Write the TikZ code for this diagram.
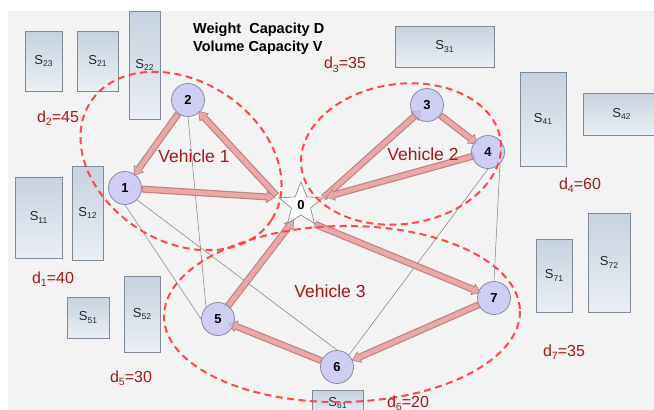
\documentclass[tikz,border=0pt]{standalone}
\usepackage{fontspec}
\setmainfont{Liberation Sans}
\usetikzlibrary{shapes.geometric,arrows.meta,calc}
\pgfdeclarelayer{bg}
\pgfdeclarelayer{arr}
\pgfsetlayers{bg,arr,main}
\definecolor{boxtop}{HTML}{C6D2DF}
\definecolor{boxbot}{HTML}{EAEFF4}
\definecolor{boxline}{HTML}{808A96}
\definecolor{nodefill}{HTML}{C2C2F2}
\definecolor{nodeline}{HTML}{8A8AA6}
\definecolor{arrfill}{HTML}{EBA8A8}
\definecolor{arredge}{HTML}{C08282}
\definecolor{dred}{HTML}{A31818}
\definecolor{ered}{HTML}{FF4848}
\definecolor{bgc}{HTML}{F3F3F3}
\definecolor{thin}{HTML}{7F7F7F}
\newcommand\slab[1]{{\fontsize{13}{15}\selectfont S\raisebox{-2.5pt}{\fontsize{8.5}{9}\selectfont #1}}}
\newcommand\dlab[2]{{\fontsize{16}{18}\selectfont d\raisebox{-3.5pt}{\fontsize{10.5}{12}\selectfont #1}=#2}}
\newcommand\routearrow[4]{%
  \draw[arrE, shorten <=#1pt, shorten >=#2pt] (#3) -- (#4);
  \pgfmathsetmacro\rtA{#1+0.9}\pgfmathsetmacro\rtB{#2+1.3}%
  \draw[arrF, shorten <=\rtA pt, shorten >=\rtB pt] (#3) -- (#4);}
\begin{document}
\begin{tikzpicture}[x=1pt,y=-1pt,
  sbox/.style={draw=boxline, line width=0.8pt, top color=boxtop, bottom color=boxbot, inner sep=0pt, text=black!85},
  vnode/.style={circle, draw=nodeline, line width=0.8pt, fill=nodefill, fill opacity=0.75, text opacity=1, minimum size=33pt, inner sep=0pt, font=\fontsize{13}{13}\selectfont\bfseries},
  depot/.style={star, star points=5, star point ratio=2.3, draw=gray, line width=0.6pt, fill=white, fill opacity=0.6, text opacity=1, minimum size=46pt, inner sep=0pt, font=\fontsize{13}{13}\selectfont\bfseries},
  arrE/.style={line width=7pt, draw=arredge, -{Triangle[length=9pt,width=12.5pt,line width=0pt]}},
  arrF/.style={line width=4.6pt, draw=arrfill, -{Triangle[length=6.8pt,width=9pt,line width=0pt]}},
  thinline/.style={draw=thin, line width=0.5pt},
  vdash/.style={draw=ered, line width=2pt, dash pattern=on 7pt off 4.5pt},
  veh/.style={text=dred, font=\fontsize{17.5}{20}\selectfont, inner sep=0pt},
  dl/.style={text=dred, inner sep=0pt},
  ttl/.style={font=\fontsize{14.5}{16}\selectfont\bfseries, inner sep=0pt, anchor=base west}
]
\useasboundingbox (0,0) rectangle (654,410);
\begin{pgfonlayer}{bg}
\fill[bgc] (8,11) rectangle (654,410);
\end{pgfonlayer}
% storage boxes
\begin{pgfonlayer}{bg}
\node[sbox, minimum width=37pt, minimum height=60pt] (s23) at (43.5,61) {\slab{23}};
\node[sbox, minimum width=41pt, minimum height=60pt] (s21) at (97.5,61) {\slab{21}};
\node[sbox, minimum width=31pt, minimum height=108pt] (s22) at (144.5,65) {\slab{22}};
\node[sbox, minimum width=99pt, minimum height=41pt] (s31) at (444.5,46.5) {\slab{31}};
\node[sbox, minimum width=46pt, minimum height=94pt] (s41) at (543,119) {\slab{41}};
\node[sbox, minimum width=77pt, minimum height=42pt] (s42) at (621.5,114) {\slab{42}};
\node[sbox, minimum width=47pt, minimum height=81pt] (s11) at (38.5,217.5) {\slab{11}};
\node[sbox, minimum width=31pt, minimum height=94pt] (s12) at (87.5,213) {\slab{12}};
\node[sbox, minimum width=42pt, minimum height=41pt] (s51) at (88,317.5) {\slab{51}};
\node[sbox, minimum width=36pt, minimum height=76pt] (s52) at (142,314) {\slab{52}};
\node[sbox, minimum width=51pt, minimum height=26pt] (s61) at (337.5,403) {\slab{61}};
\node[sbox, minimum width=36pt, minimum height=73pt] (s71) at (554,275.5) {\slab{71}};
\node[sbox, minimum width=42pt, minimum height=99pt] (s72) at (609,262.5) {\slab{72}};
\end{pgfonlayer}
% customers and depot
\node[depot] (n0) at (301,205) {0};
\node[vnode] (n1) at (125,188) {1};
\node[vnode] (n2) at (188,100) {2};
\node[vnode] (n3) at (427,105) {3};
\node[vnode] (n4) at (488,152) {4};
\node[vnode] (n5) at (218,319) {5};
\node[vnode] (n6) at (337,367) {6};
\node[vnode] (n7) at (494,298) {7};
\coordinate (d5) at ($(n0.outer point 3)!0.5!(n0.inner point 3)$);
% thin lines and routes
\begin{pgfonlayer}{arr}
\draw[thinline] (n1.south) -- (n5.west);
\draw[thinline] (n1.south east) -- (n6.north);
\draw[thinline] (n2.south) -- (n5.north west);
\draw[thinline] (n4.south) -- (n6.north east);
\draw[thinline] (n4.south east) -- (n7.north);
\routearrow{3}{-2}{n0.outer point 2}{n2}
\routearrow{0}{-2}{n2}{n1}
\routearrow{0}{3}{n1}{n0.outer point 2}
\routearrow{0}{-9}{n0.outer point 5}{n3}
\routearrow{0}{-4}{n3}{n4}
\routearrow{-3}{2}{n4}{n0.outer point 5}
\routearrow{0}{-3}{n0.outer point 4}{n7}
\routearrow{0}{-1}{n7}{n6}
\routearrow{0}{-6}{n6}{n5}
\routearrow{-2}{0}{n5}{d5}
\end{pgfonlayer}
% vehicle regions
\draw[vdash, shift={(181,161)}, rotate=-33] (0,0) ellipse [x radius=108, y radius=80];
\draw[vdash, shift={(401,154)}, rotate=8] (0,0) ellipse [x radius=100.5, y radius=70];
\draw[vdash, shift={(342,314)}, rotate=1] (0,0) ellipse [x radius=178, y radius=88];
% texts
\node[veh] (v1) at (194,156) {Vehicle 1};
\node[veh] (v2) at (423,154) {Vehicle 2};
\node[veh] (v3) at (330,291) {Vehicle 3};
\node[ttl] (t1) at (193,33) {Weight\ \ Capacity D};
\node[ttl] (t2) at (193,51) {Volume Capacity V};
\node[dl] (l2) at (58,118) {\dlab{2}{45}};
\node[dl] (l3) at (345,65) {\dlab{3}{35}};
\node[dl] (l4) at (580,185) {\dlab{4}{60}};
\node[dl] (l1) at (53,279) {\dlab{1}{40}};
\node[dl] (l5) at (131,378) {\dlab{5}{30}};
\node[dl] (l6) at (408,403) {\dlab{6}{20}};
\node[dl] (l7) at (564,352) {\dlab{7}{35}};
\end{tikzpicture}
\end{document}
